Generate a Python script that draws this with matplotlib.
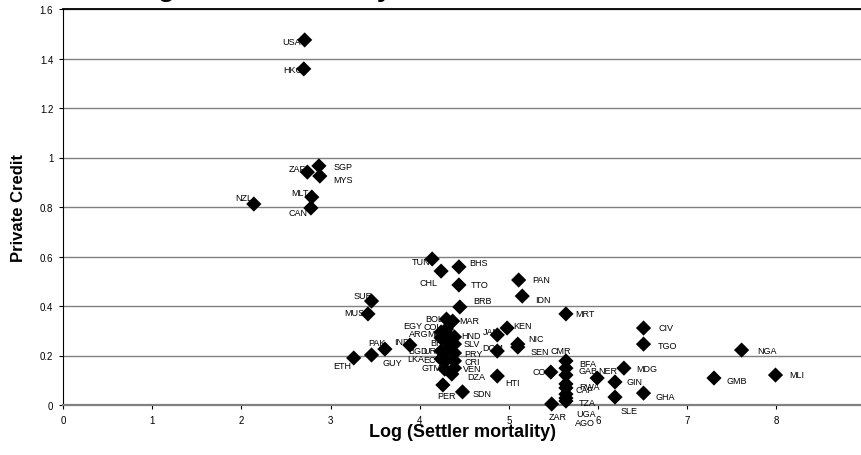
import matplotlib.pyplot as plt

plt.rcParams["font.family"] = ["Liberation Sans", "DejaVu Sans"]

# country codes, log settler mortality, private credit
countries = [
    "USA", "HKG", "ZAF", "SGP", "MYS", "MLT", "CAN", "NZL", "TUN", "CHL",
    "BHS", "TTO", "PAN", "IDN", "BRB", "MRT", "MAR", "BOL", "COL", "EGY",
    "ARG", "MEX", "BRA", "BGD", "URY", "LKA", "ECU", "GTM", "HND", "SLV",
    "PRY", "CRI", "VEN", "DZA", "PER", "SDN", "JAM", "DOM", "HTI", "KEN",
    "NIC", "SEN", "CMR", "BFA", "GAB", "RWA", "CAF", "TZA", "UGA", "AGO",
    "COG", "ZAR", "NER", "GIN", "SLE", "MDG", "GHA", "CIV", "TGO", "NGA",
    "GMB", "MLI", "SUR", "MUS", "ETH", "PAK", "GUY", "IND",
]
log_mortality = [
    2.71, 2.70, 2.74, 2.87, 2.88, 2.79, 2.78, 2.14, 4.14, 4.24,
    4.44, 4.44, 5.11, 5.15, 4.45, 5.64, 4.37, 4.30, 4.30, 4.24,
    4.24, 4.33, 4.33, 4.24, 4.30, 4.24, 4.30, 4.28, 4.39, 4.39,
    4.39, 4.39, 4.39, 4.36, 4.26, 4.48, 4.87, 4.87, 4.87, 4.98,
    5.10, 5.10, 5.64, 5.64, 5.64, 5.64, 5.64, 5.64, 5.64, 5.64,
    5.47, 5.48, 5.99, 6.19, 6.19, 6.29, 6.51, 6.51, 6.51, 7.61,
    7.30, 7.99, 3.46, 3.42, 3.26, 3.46, 3.61, 3.89,
]
private_credit = [
    1.475, 1.358, 0.941, 0.966, 0.925, 0.840, 0.796, 0.812, 0.590, 0.541,
    0.558, 0.485, 0.505, 0.440, 0.396, 0.368, 0.339, 0.347, 0.307, 0.295,
    0.271, 0.279, 0.246, 0.218, 0.218, 0.186, 0.182, 0.145, 0.275, 0.246,
    0.210, 0.178, 0.149, 0.125, 0.081, 0.053, 0.283, 0.218, 0.117, 0.311,
    0.246, 0.234, 0.178, 0.149, 0.121, 0.085, 0.069, 0.044, 0.028, 0.016,
    0.133, 0.004, 0.109, 0.093, 0.032, 0.149, 0.048, 0.311, 0.246, 0.222,
    0.109, 0.121, 0.420, 0.368, 0.190, 0.202, 0.226, 0.242,
]

# label placement relative to its marker, in pixels (right, down)
label_offset = {
    "USA": (-13, 2), "HKG": (-11, 1), "ZAF": (-10, -4), "SGP": (24, 1),
    "MYS": (23, 3), "MLT": (-12, -5), "CAN": (-13, 5), "NZL": (-10, -7),
    "TUN": (-11, 3), "CHL": (-13, 11), "BHS": (20, -4), "TTO": (21, 0),
    "PAN": (23, -1), "IDN": (21, 3), "BRB": (23, -6), "MRT": (19, 0),
    "MAR": (17, -1), "BOL": (-12, -1), "COL": (-14, -3), "EGY": (-28, -6),
    "ARG": (-22, -4), "MEX": (-12, -2), "BRA": (-10, -2), "BGD": (-23, -1),
    "URY": (-14, -1), "LKA": (-25, 0), "ECU": (-14, 0), "GTM": (-13, -2),
    "HND": (17, -1), "SLV": (17, -1), "PRY": (19, 0), "CRI": (18, 1),
    "VEN": (18, 0), "DZA": (24, 2), "PER": (4, 11), "SDN": (20, 2),
    "JAM": (-5, -3), "DOM": (-5, -4), "HTI": (15, 6), "KEN": (15, -3),
    "NIC": (18, -6), "SEN": (22, 4), "CMR": (-5, -10), "BFA": (22, -5),
    "GAB": (22, -5), "RWA": (24, 3), "CAF": (19, 2), "TZA": (21, 8),
    "UGA": (20, 15), "AGO": (19, 21), "COG": (-8, -1), "ZAR": (6, 12),
    "NER": (11, -8), "GIN": (20, 0), "SLE": (14, 13), "MDG": (23, 0),
    "GHA": (22, 3), "CIV": (22, -1), "TGO": (24, 1), "NGA": (25, 0),
    "GMB": (23, 2), "MLI": (21, -1), "SUR": (-8, -6), "MUS": (-14, -1),
    "ETH": (-11, 8), "PAK": (5, -13), "GUY": (7, 13), "IND": (-8, -4),
}

fig = plt.figure(figsize=(8.62, 4.56), dpi=100)
ax = fig.add_axes([63 / 862, 50 / 456, 799 / 862, 396 / 456])

ax.scatter(log_mortality, private_credit, marker="D", s=60, color="black",
           edgecolors="none", zorder=3, clip_on=False)
for name, x, y in zip(countries, log_mortality, private_credit):
    dx, dy = label_offset[name]
    ax.annotate(name, (x, y), xytext=(dx, -dy), textcoords="offset pixels",
                ha="center", va="center", fontsize=6.5, zorder=4)

ax.set_xlim(0, 8.96)
ax.set_ylim(0, 1.6)
ax.set_xticks(range(0, 9))
ax.set_yticks([0, 0.2, 0.4, 0.6, 0.8, 1, 1.2, 1.4, 1.6])
ax.set_yticklabels(["0", "0.2", "0.4", "0.6", "0.8", "1", "1.2", "1.4", "1.6"])
ax.tick_params(labelsize=7, length=3, width=0.8, pad=4)
ax.yaxis.grid(True, color="#808080", linewidth=1)
ax.set_axisbelow(True)
ax.spines["right"].set_visible(False)
ax.spines["top"].set_linewidth(1.3)
ax.spines["bottom"].set_color("#808080")
ax.spines["bottom"].set_linewidth(1.6)
ax.spines["left"].set_linewidth(0.8)

ax.set_xlabel("Log (Settler mortality)", fontsize=13, fontweight="bold", labelpad=-1)
ax.set_ylabel("Private Credit", fontsize=12, fontweight="bold", labelpad=10)
# title sits mostly above the visible area, only its descenders show
fig.text(0.442, 1.0085, "Log Settler Mortality and Private Credit", ha="center",
         va="baseline", fontsize=20, fontweight="bold")

fig.savefig("out.png", dpi=100)
